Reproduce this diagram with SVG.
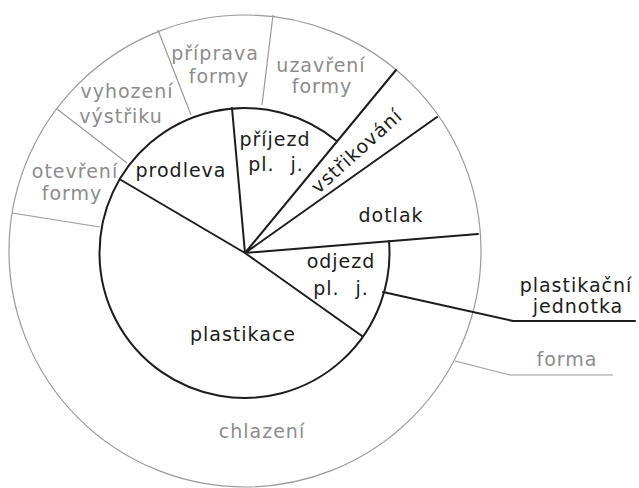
<svg xmlns="http://www.w3.org/2000/svg" width="639" height="488" viewBox="0 0 639 488">
<style>
text{font-family:"DejaVu Sans","Liberation Sans",sans-serif;font-size:19px;letter-spacing:1px;text-anchor:middle}
.k{fill:#1c1c1c}
.g{fill:#8c8c8c}
.kl{stroke:#1c1c1c;stroke-width:2;fill:none;stroke-linecap:round}
.gl{stroke:#9a9a9a;stroke-width:1.2;fill:none}
.pj{word-spacing:9px}
</style>
<rect width="639" height="488" fill="#fff"/>
<g id="forma">
<circle cx="245" cy="251" r="236" class="gl"/>
<path class="gl" d="M100,227 L12,213 M127,163 L57,109 M191,115 L158,30 M262,105 L273,15"/>
</g>
<g id="plastikacni-jednotka">
<path class="kl" d="M389,241 A145,145 0 1 1 336.7,141.1"/>
<path class="kl" d="M245,253 L121,180 M245,253 L232,108 M245,253 L396,70 M245,253 L437,117 M245,253 L478,234 M245,253 L362,336"/>
</g>
<g id="otevreni-formy"><text class="g" x="75" y="178">otevření</text><text class="g" x="72" y="200">formy</text></g>
<g id="vyhozeni-vystriku"><text class="g" x="127" y="98">vyhození</text><text class="g" x="121" y="123">výstřiku</text></g>
<g id="priprava-formy"><text class="g" x="215" y="60">příprava</text><text class="g" x="219" y="83">formy</text></g>
<g id="uzavreni-formy"><text class="g" x="321" y="72">uzavření</text><text class="g" x="322" y="93">formy</text></g>
<g id="chlazeni"><text class="g" x="262" y="438">chlazení</text></g>
<g id="prodleva"><text class="k" x="181" y="177">prodleva</text></g>
<g id="prijezd"><text class="k" x="275" y="146">příjezd</text><text class="k pj" x="276" y="171">pl. j.</text></g>
<g id="vstrikovani"><text class="k" x="361" y="156" transform="rotate(-42 361 156)">vstřikování</text></g>
<g id="dotlak"><text class="k" x="391" y="222">dotlak</text></g>
<g id="odjezd"><text class="k" x="341" y="268">odjezd</text><text class="k pj" x="341" y="295">pl. j.</text></g>
<g id="plastikace"><text class="k" x="243" y="341">plastikace</text></g>
<g id="connectors">
<path class="kl" stroke-width="1.8" d="M383,292 L513,321 L635,321"/>
<path class="gl" d="M455,361 L510,375 L613,375"/>
</g>
<g id="label-pj"><text class="k" x="576" y="292">plastikační</text><text class="k" x="578" y="313">jednotka</text></g>
<g id="label-forma"><text class="g" x="567" y="366">forma</text></g>
</svg>
